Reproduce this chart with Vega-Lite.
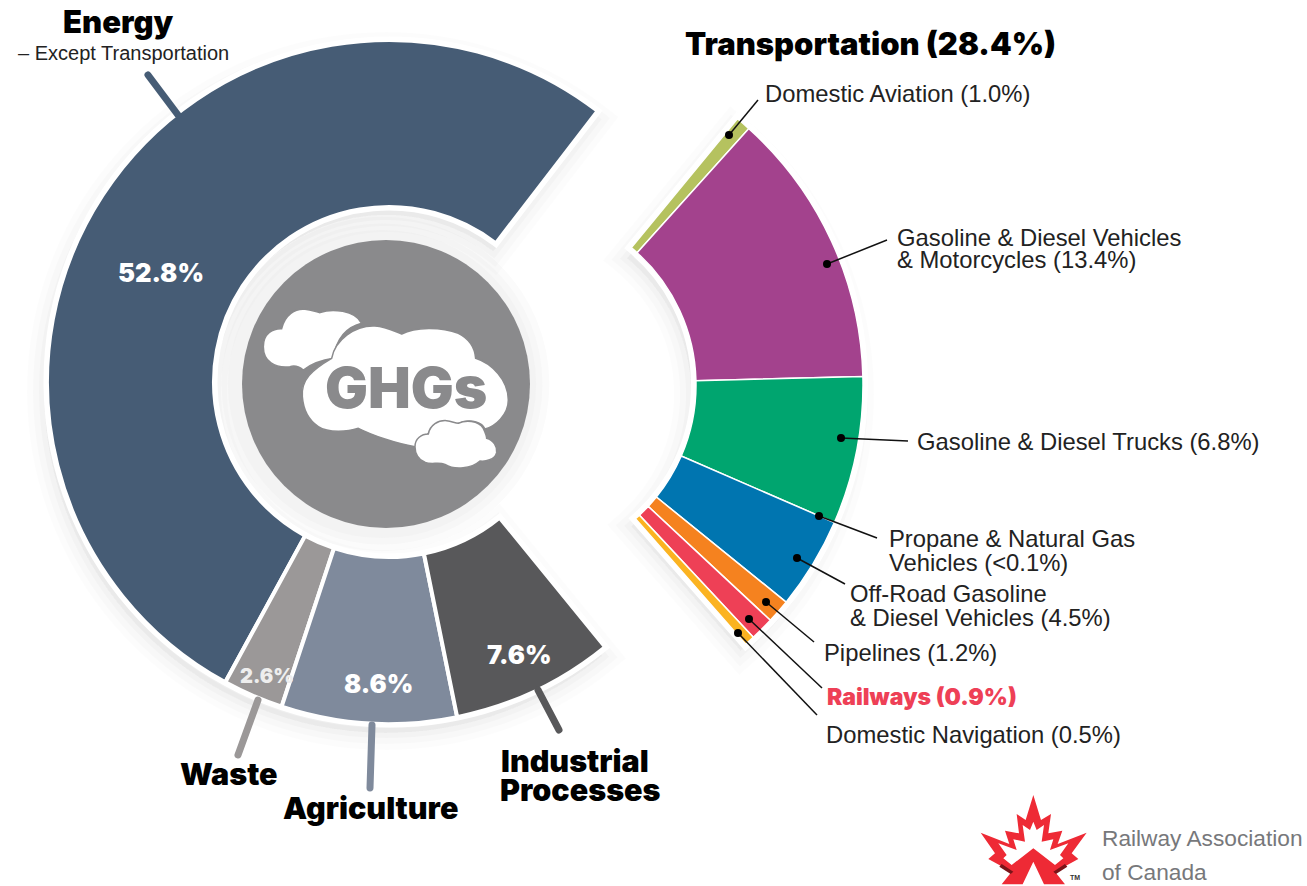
{
"$schema":"https://vega.github.io/schema/vega-lite/v6.json",
"width":1307,"height":886,"padding":0,"autosize":{"type":"none"},"background":"white",
"config":{"view":{"stroke":null}},
"datasets":{
"wedges":[{"group":"Left","x":389,"y":382,"start":140.8,"end":397.6},{"group":"Right","x":518,"y":385,"start":39.5,"end":138.7}],
"slices":[
{"segment":"Energy","group":"Left","x":389,"y":382,"start":208.6,"end":397.6,"percent":52.8},
{"segment":"Waste","group":"Left","x":389,"y":382,"start":198.3,"end":208.6,"percent":2.6},
{"segment":"Agriculture","group":"Left","x":389,"y":382,"start":168.5,"end":198.3,"percent":8.6},
{"segment":"Industrial Processes","group":"Left","x":389,"y":382,"start":140.8,"end":168.5,"percent":7.6},
{"segment":"Domestic Aviation","group":"Right","x":518,"y":385,"start":39.5,"end":42,"percent":1.0},
{"segment":"Gasoline & Diesel Vehicles & Motorcycles","group":"Right","x":518,"y":385,"start":42,"end":88.6,"percent":13.4},
{"segment":"Gasoline & Diesel Trucks","group":"Right","x":518,"y":385,"start":88.6,"end":113.5,"percent":6.8},
{"segment":"Off-Road Gasoline & Diesel Vehicles","group":"Right","x":518,"y":385,"start":113.5,"end":129,"percent":4.5},
{"segment":"Pipelines","group":"Right","x":518,"y":385,"start":129,"end":133,"percent":1.2},
{"segment":"Railways","group":"Right","x":518,"y":385,"start":133,"end":137,"percent":0.9},
{"segment":"Domestic Navigation","group":"Right","x":518,"y":385,"start":137,"end":138.7,"percent":0.5}],
"stubs":[
{"segment":"Energy","x":148,"y":75,"x2":178,"y2":115},
{"segment":"Waste","x":258,"y":700,"x2":238,"y2":755},
{"segment":"Agriculture","x":372,"y":725,"x2":370,"y2":788},
{"segment":"Industrial Processes","x":538,"y":690,"x2":559,"y2":730}],
"leaders":[
{"name":"Domestic Aviation","x":729,"y":135,"x2":758,"y2":100},
{"name":"Gasoline Vehicles","x":827,"y":264,"x2":887,"y2":240},
{"name":"Trucks","x":841,"y":438,"x2":908,"y2":441},
{"name":"Propane","x":819,"y":516,"x2":877,"y2":538},
{"name":"Off-Road","x":797,"y":558,"x2":845,"y2":584},
{"name":"Pipelines","x":766,"y":602,"x2":814,"y2":642},
{"name":"Railways","x":749,"y":619,"x2":822,"y2":688},
{"name":"Navigation","x":738,"y":633,"x2":817,"y2":715}],
"plain":[
{"text":"– Except Transportation","x":18,"y":60,"kind":"small"},
{"text":"Domestic Aviation (1.0%)","x":765,"y":102,"kind":"label"},
{"text":"Gasoline & Diesel Vehicles","x":897,"y":246,"kind":"label"},
{"text":"& Motorcycles (13.4%)","x":897,"y":268,"kind":"label"},
{"text":"Gasoline & Diesel Trucks (6.8%)","x":917,"y":450,"kind":"label"},
{"text":"Propane & Natural Gas","x":889,"y":547,"kind":"label"},
{"text":"Vehicles (<0.1%)","x":889,"y":571,"kind":"label"},
{"text":"Off-Road Gasoline","x":850,"y":602,"kind":"label"},
{"text":"& Diesel Vehicles (4.5%)","x":850,"y":626,"kind":"label"},
{"text":"Pipelines (1.2%)","x":824,"y":661,"kind":"label"},
{"text":"Domestic Navigation (0.5%)","x":826,"y":743,"kind":"label"}],
"heavy":[
{"text":"Energy","x":63,"y":33,"kind":"heading"},
{"text":"Transportation (28.4%)","x":685,"y":55,"kind":"heading"},
{"text":"Waste","x":180,"y":785,"kind":"heading2"},
{"text":"Agriculture","x":283,"y":819,"kind":"heading2"},
{"text":"Industrial","x":501,"y":772,"kind":"heading2"},
{"text":"Processes","x":500,"y":801,"kind":"heading2"},
{"text":"Railways (0.9%)","x":827,"y":705,"kind":"railways"},
{"text":"52.8%","x":118,"y":282,"kind":"value"},
{"text":"2.6%","x":240,"y":683,"kind":"value2"},
{"text":"8.6%","x":344,"y":693,"kind":"value"},
{"text":"7.6%","x":487,"y":664,"kind":"value"},
{"text":"GHGs","x":325,"y":408,"kind":"center"}],
"logotext":[
{"text":"Railway Association","x":1102,"y":846},
{"text":"of Canada","x":1102,"y":880}],
"core":[{"x":386,"y":384}],
"halo":[{"x":382,"y":384}],
"cloudAnchor":[{"x":215,"y":230}],
"logoAnchor":[{"x":970,"y":790}]
},
"encoding":{
"x":{"field":"x","type":"quantitative","scale":{"domain":[0,1307],"range":[0,1307],"nice":false,"zero":false},"axis":null},
"y":{"field":"y","type":"quantitative","scale":{"domain":[0,886],"range":[0,886],"nice":false,"zero":false},"axis":null}
},
"resolve":{"scale":{"color":"independent","size":"independent"}},
"layer":[
{"data":{"name":"halo"},"mark":{"type":"point","shape":"circle","filled":true,"fill":"#fbfbfb","opacity":1,"size":112000}},
{"data":{"name":"halo"},"mark":{"type":"point","shape":"circle","filled":true,"fill":"#f7f7f7","opacity":1,"size":103000}},
{"data":{"name":"halo"},"mark":{"type":"point","shape":"circle","filled":true,"fill":"#f3f3f3","opacity":1,"size":95000}},
{"data":{"name":"wedges"},"mark":{"type":"arc","outerRadius":342,"innerRadius":176,"xOffset":-3,"yOffset":9,"fill":"#000","fillOpacity":0.01,"stroke":"#000","strokeOpacity":0.012,"strokeWidth":34},
 "encoding":{"theta":{"field":"start","type":"quantitative","stack":null,"scale":{"domain":[0,360],"range":[0,6.28319]}},"theta2":{"field":"end"}}},
{"data":{"name":"wedges"},"mark":{"type":"arc","outerRadius":342,"innerRadius":176,"xOffset":-3,"yOffset":9,"fill":"#000","fillOpacity":0.01,"stroke":"#000","strokeOpacity":0.015,"strokeWidth":22},
 "encoding":{"theta":{"field":"start","type":"quantitative","stack":null,"scale":{"domain":[0,360],"range":[0,6.28319]}},"theta2":{"field":"end"}}},
{"data":{"name":"wedges"},"mark":{"type":"arc","outerRadius":342,"innerRadius":176,"xOffset":-3,"yOffset":9,"fill":"#000","fillOpacity":0.01,"stroke":"#000","strokeOpacity":0.02,"strokeWidth":10},
 "encoding":{"theta":{"field":"start","type":"quantitative","stack":null,"scale":{"domain":[0,360],"range":[0,6.28319]}},"theta2":{"field":"end"}}},
{"data":{"name":"wedges"},"transform":[{"filter":"datum.group==='Left'"}],"mark":{"type":"arc","outerRadius":342,"innerRadius":175,"fill":"white","stroke":"white","strokeWidth":7},
 "encoding":{"theta":{"field":"start","type":"quantitative","stack":null,"scale":{"domain":[0,360],"range":[0,6.28319]}},"theta2":{"field":"end"}}},
{"data":{"name":"wedges"},"transform":[{"filter":"datum.group==='Right'"}],"mark":{"type":"arc","outerRadius":345,"innerRadius":178,"fill":"white","stroke":"white","strokeWidth":10},
 "encoding":{"theta":{"field":"start","type":"quantitative","stack":null,"scale":{"domain":[0,360],"range":[0,6.28319]}},"theta2":{"field":"end"}}},
{"data":{"name":"slices"},"transform":[{"filter":"datum.group==='Left'"}],"mark":{"type":"arc","outerRadius":342,"innerRadius":175,"stroke":"white","strokeWidth":4},
 "encoding":{"theta":{"field":"start","type":"quantitative","stack":null,"scale":{"domain":[0,360],"range":[0,6.28319]}},"theta2":{"field":"end"},
 "color":{"field":"segment","type":"nominal","legend":null,"scale":{"domain":["Energy","Waste","Agriculture","Industrial Processes"],"range":["#465c75","#9b9898","#7f8a9c","#58585a"]}}}},
{"data":{"name":"slices"},"transform":[{"filter":"datum.group==='Right'"}],"mark":{"type":"arc","outerRadius":345,"innerRadius":178,"stroke":"white","strokeWidth":1.5},
 "encoding":{"theta":{"field":"start","type":"quantitative","stack":null,"scale":{"domain":[0,360],"range":[0,6.28319]}},"theta2":{"field":"end"},
 "color":{"field":"segment","type":"nominal","legend":null,"scale":{"domain":["Domestic Aviation","Gasoline & Diesel Vehicles & Motorcycles","Gasoline & Diesel Trucks","Off-Road Gasoline & Diesel Vehicles","Pipelines","Railways","Domestic Navigation"],"range":["#b5c25f","#a3428d","#00a56f","#0075b0","#f5821f","#ee4056","#fbb321"]}}}},
{"data":{"name":"stubs"},"mark":{"type":"rule","strokeWidth":7,"strokeCap":"round"},
 "encoding":{"x2":{"field":"x2"},"y2":{"field":"y2"},
 "color":{"field":"segment","type":"nominal","legend":null,"scale":{"domain":["Energy","Waste","Agriculture","Industrial Processes"],"range":["#465c75","#9b9898","#7f8a9c","#58585a"]}}}},
{"data":{"name":"core"},"mark":{"type":"point","shape":"circle","filled":true,"fill":"#8a8a8c","opacity":1,"size":82944}},
{"data":{"name":"cloudAnchor"},"mark":{"type":"point","filled":true,"fill":"white","opacity":1,"stroke":"#8a8a8c","strokeWidth":1.5,"size":0.4444,
 "shape":"M145 350 C145 310 175 295 200 296 C210 255 240 235 270 238 C290 240 300 245 315 248 C350 235 420 240 440 280 C400 290 365 320 355 385 C320 390 285 405 265 420 C250 408 240 405 225 410 C180 415 145 395 145 350 Z"}},
{"data":{"name":"cloudAnchor"},"mark":{"type":"point","filled":true,"fill":"white","opacity":1,"stroke":"#8a8a8c","strokeWidth":1.5,"size":0.4444,
 "shape":"M262 500 C258 450 290 420 350 385 C360 330 420 285 480 288 C515 290 540 305 560 312 C600 290 680 290 730 310 C770 330 780 360 782 385 C830 400 880 450 880 510 C880 555 840 590 810 597 C800 575 770 570 745 575 L640 610 L600 650 C540 640 470 615 430 595 C400 605 340 610 310 590 C280 570 265 540 262 500 Z"}},
{"data":{"name":"cloudAnchor"},"mark":{"type":"point","filled":true,"fill":"white","opacity":1,"stroke":"#8a8a8c","strokeWidth":1.5,"size":0.4444,
 "shape":"M600 650 C600 625 620 612 640 612 C645 585 670 570 695 572 C710 573 720 580 730 580 C750 570 790 570 805 595 C812 610 815 620 815 625 C835 630 848 650 845 668 C840 690 810 695 795 693 C770 715 720 722 690 703 C670 695 650 705 630 697 C610 690 600 670 600 650 Z"}},
{"data":{"name":"leaders"},"mark":{"type":"rule","color":"#111","strokeWidth":1.5},"encoding":{"x2":{"field":"x2"},"y2":{"field":"y2"}}},
{"data":{"name":"leaders"},"mark":{"type":"point","shape":"circle","filled":true,"fill":"#000","opacity":1,"size":64}},
{"data":{"name":"plain"},"mark":{"type":"text","font":"Liberation Sans","align":"left","baseline":"alphabetic"},
 "encoding":{"text":{"field":"text"},
 "size":{"field":"kind","type":"nominal","legend":null,"scale":{"type":"ordinal","domain":["small","label"],"range":[20,23.8]}},
 "color":{"value":"#222222"}}},
{"data":{"name":"heavy"},"mark":{"type":"text","font":"Inter","fontWeight":900,"align":"left","baseline":"alphabetic"},
 "encoding":{"text":{"field":"text"},
 "size":{"field":"kind","type":"nominal","legend":null,"scale":{"type":"ordinal","domain":["heading","heading2","railways","value","value2","center"],"range":[31,30.5,23,25.5,20,57]}},
 "color":{"field":"kind","type":"nominal","legend":null,"scale":{"domain":["heading","heading2","railways","value","value2","center"],"range":["#000000","#000000","#ee4056","#ffffff","#eeeeee","#8a8a8c"]}}}},
{"data":{"name":"logoAnchor"},"mark":{"type":"point","filled":true,"fill":"#ee2a35","opacity":1,"strokeWidth":0,"size":0.4444,
 "shape":"M190 15 L213 90 L243 72 L235 130 L277 122 L263 162 L350 128 L305 190 L325 207 L255 245 L285 283 L222 283 L190 215 L158 283 L95 283 L125 245 L55 207 L75 190 L32 128 L118 162 L105 122 L147 130 L140 72 L167 90 Z"}},
{"data":{"name":"logoAnchor"},"mark":{"type":"point","filled":true,"fill":"#ffffff","opacity":1,"strokeWidth":0,"size":0.4444,
 "shape":"M190 95 L200 120 L222 105 L215 155 L250 148 L240 180 L295 160 L270 195 L280 205 L255 225 L190 175 L125 225 L100 205 L110 195 L85 160 L140 180 L130 148 L165 155 L158 105 L180 120 Z"}},
{"data":{"name":"logoAnchor"},"mark":{"type":"point","filled":true,"fill":"#7a1418","opacity":1,"strokeWidth":0,"size":0.4444,
 "shape":"M95 222 L130 245 L122 252 L88 230 Z M285 222 L250 245 L258 252 L292 230 Z"}},
{"data":{"name":"logoAnchor"},"mark":{"type":"text","text":"TM","font":"Liberation Sans","fontWeight":"bold","fontSize":7,"dx":100,"dy":90,"align":"left","baseline":"alphabetic","color":"#333"}},
{"data":{"name":"logotext"},"mark":{"type":"text","font":"Liberation Sans","fontSize":22.7,"align":"left","baseline":"alphabetic","color":"#77787b"},
 "encoding":{"text":{"field":"text"}}}
]
}
